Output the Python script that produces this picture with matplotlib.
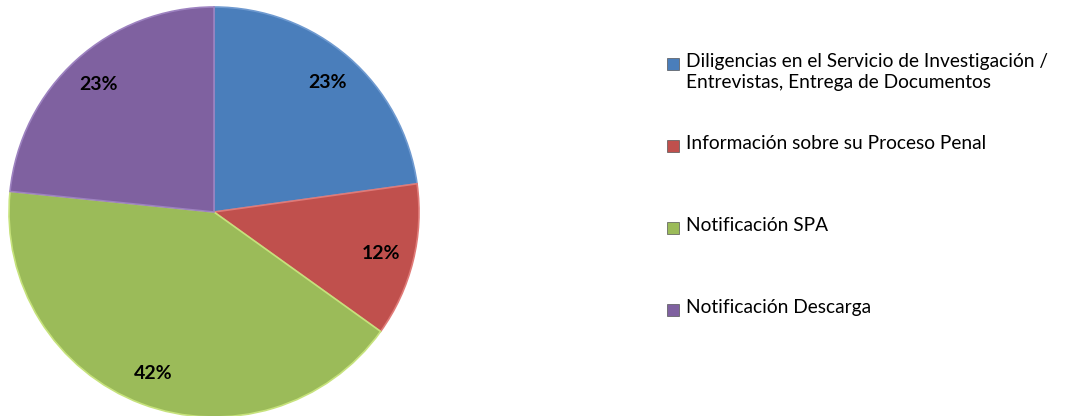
import matplotlib
matplotlib.use("Agg")
import matplotlib.pyplot as plt
from matplotlib.patches import Rectangle

plt.rcParams['font.family'] = ['Lato', 'DejaVu Sans']

# datos
categorias = ["Diligencias en el Servicio de Investigación /\nEntrevistas, Entrega de Documentos",
              "Información sobre su Proceso Penal",
              "Notificación SPA",
              "Notificación Descarga"]
valores = [22.8, 12.1, 41.7, 23.4]
colores = ["#4a7ebb", "#c0504d", "#9bbb59", "#7f61a0"]
bordes = ["#6f9ad0", "#e07a77", "#c6e27c", "#9d82c0"]

W, H = 1068, 416
fig = plt.figure(figsize=(W / 100, H / 100), dpi=100)

# eje de la torta: centro (214, 212) px, radio 205 px
cx, cy, r = 214, 212, 205
ax = fig.add_axes([(cx - r) / W, (H - cy - r) / H, 2 * r / W, 2 * r / H])
wedges, texts, autotexts = ax.pie(valores, colors=colores, startangle=90, counterclock=False,
                                  autopct=lambda p: "%.0f%%" % p, pctdistance=0.84,
                                  wedgeprops=dict(linewidth=1.2),
                                  textprops=dict(fontsize=14, fontweight='bold', color='black'))
for w, b in zip(wedges, bordes):
    w.set_edgecolor(b)
ax.set_xlim(-1, 1)
ax.set_ylim(-1, 1)
ax.set_aspect('equal')
ax.axis('off')

# leyenda manual
leg_y = [64, 146, 228, 310]
for lab, col, y in zip(categorias, colores, leg_y):
    fig.patches.append(Rectangle(((667) / W, (H - y - 6) / H), 12 / W, 12 / H,
                                 transform=fig.transFigure, facecolor=col,
                                 edgecolor='#555555', linewidth=0.5))
    fig.text(686 / W, (H - y + 11) / H, lab, fontsize=13.8, va='top', ha='left',
             color='black', linespacing=1.28)

fig.savefig("out.png", dpi=100)
